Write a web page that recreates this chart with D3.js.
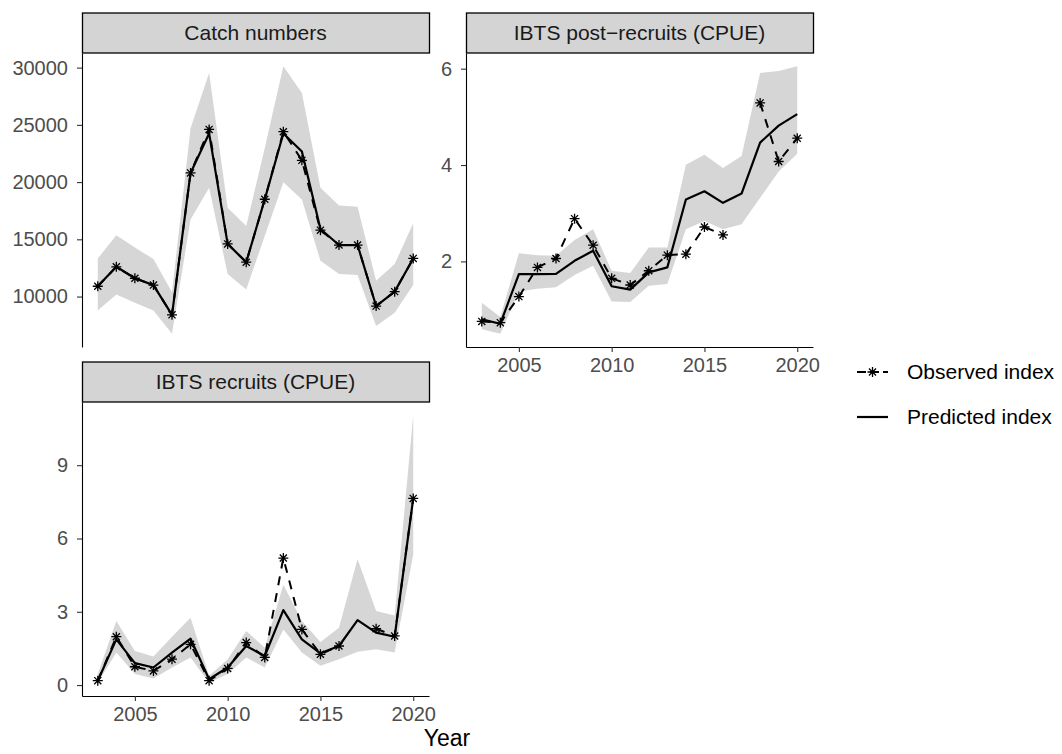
<!DOCTYPE html>
<html>
<head>
<meta charset="utf-8">
<script src="https://cdn.jsdelivr.net/npm/d3@7"></script>
<style>
  body { margin: 0; background: #fff; }
  svg text { font-family: "Liberation Sans", Arial, Helvetica, sans-serif; }
</style>
</head>
<body>
<div id="chart"></div>
<script>
// years on the x axis
var years = [2003, 2004, 2005, 2006, 2007, 2008, 2009, 2010, 2011, 2012, 2013, 2014, 2015, 2016, 2017, 2018, 2019, 2020];
var xTicks = [2005, 2010, 2015, 2020];

// Catch numbers
var catchObs  = [10900, 12600, 11600, 11000, 8400, 20800, 24600, 14600, 13000, 18500, 24400, 21900, 15800, 14500, 14500, 9170, 10430, 13330];
var catchPred = [10900, 12600, 11600, 11000, 8400, 20800, 24250, 14600, 13000, 18500, 24250, 22670, 15900, 14500, 14500, 9170, 10430, 13330];
var catchLow  = [8790, 10170, 9450, 8790, 6760, 16740, 19500, 11970, 10610, 15300, 19980, 18480, 13130, 11970, 11880, 7430, 8590, 11020];
var catchHigh = [13330, 15350, 14290, 13270, 10380, 24700, 29530, 17760, 16160, 22970, 30110, 27790, 19500, 17960, 17850, 11390, 12840, 16400];
var catchTicks = [10000, 15000, 20000, 25000, 30000];

// IBTS post-recruits (CPUE)
var postObs  = [0.755, 0.728, 1.27, 1.876, 2.06, 2.887, 2.336, 1.649, 1.51, 1.806, 2.13, 2.15, 2.714, 2.55, null, 5.29, 4.074, 4.557];
var postPred = [0.796, 0.707, 1.738, 1.738, 1.74, 2.013, 2.22, 1.485, 1.415, 1.773, 1.876, 3.285, 3.456, 3.216, 3.408, 4.466, 4.817, 5.058];
var postLow  = [0.59, 0.501, 1.373, 1.43, 1.464, 1.718, 1.909, 1.167, 1.155, 1.497, 1.532, 2.666, 2.838, 2.666, 2.769, 3.32, 3.868, 4.233];
var postHigh = [1.14, 0.845, 2.17, 2.13, 2.115, 2.445, 2.666, 1.806, 1.76, 2.289, 2.289, 4.006, 4.212, 3.938, 4.19, 5.91, 5.95, 6.048];
var postTicks = [2, 4, 6];

// IBTS recruits (CPUE)
var recObs  = [0.18, 1.98, 0.75, 0.58, 1.06, 1.67, 0.18, 0.68, 1.74, 1.13, 5.2, 2.28, 1.26, 1.6, null, 2.31, 2.01, 7.64];
var recPred = [0.18, 1.87, 0.9, 0.72, 1.33, 1.9, 0.24, 0.72, 1.6, 1.19, 3.07, 1.87, 1.3, 1.6, 2.66, 2.15, 1.98, 7.64];
var recLow  = [0.1, 1.33, 0.45, 0.27, 0.72, 1.13, 0.1, 0.45, 1.13, 0.72, 2.28, 1.33, 0.79, 1.06, 1.36, 1.47, 1.33, 5.34];
var recHigh = [0.45, 2.62, 1.4, 1.17, 1.98, 2.76, 0.38, 1.06, 2.21, 1.53, 4.11, 2.62, 1.76, 2.35, 5.16, 3.03, 2.85, 11.04];
var recTicks = [0, 3, 6, 9];

var legendLabels = ["Observed index", "Predicted index"];

var width = 1062, height = 754;
var panelW = 347, panelH = 294, stripH = 40;
var tickFont = 20, labelFont = 21;

var svg = d3.select("#chart").append("svg")
    .attr("width", width)
    .attr("height", height);
svg.append("rect").attr("width", width).attr("height", height).attr("fill", "#fff");

var panels = [
    {title: "Catch numbers", obs: catchObs, pred: catchPred, low: catchLow, high: catchHigh, ticks: catchTicks, left: 82, top: 53, xAxis: false},
    {title: "IBTS post\u2212recruits (CPUE)", obs: postObs, pred: postPred, low: postLow, high: postHigh, ticks: postTicks, left: 466, top: 53, xAxis: true},
    {title: "IBTS recruits (CPUE)", obs: recObs, pred: recPred, low: recLow, high: recHigh, ticks: recTicks, left: 82, top: 402, xAxis: true}
];

// asterisk like R pch 8
function starPath(r) {
    var d = r * 0.7071;
    return "M" + (-r) + ",0L" + r + ",0M0," + (-r) + "L0," + r +
        "M" + (-d) + "," + (-d) + "L" + d + "," + d +
        "M" + (-d) + "," + d + "L" + d + "," + (-d);
}

function expand(ext) {
    var pad = (ext[1] - ext[0]) * 0.05;
    return [ext[0] - pad, ext[1] + pad];
}

panels.forEach(function (p) {
    var x = d3.scaleLinear()
        .domain(expand(d3.extent(years)))
        .range([p.left, p.left + panelW]);
    var all = p.low.concat(p.high, p.obs.filter(function (v) { return v != null; }), p.pred);
    var y = d3.scaleLinear()
        .domain(expand(d3.extent(all)))
        .range([p.top + panelH, p.top]);

    var g = svg.append("g");

    // ribbon
    var area = d3.area()
        .x(function (d, i) { return x(years[i]); })
        .y0(function (d, i) { return y(p.low[i]); })
        .y1(function (d, i) { return y(p.high[i]); });
    g.append("path")
        .datum(years)
        .attr("d", area)
        .attr("fill", "#d6d6d6");

    // predicted line
    var line = d3.line()
        .defined(function (d) { return d != null; })
        .x(function (d, i) { return x(years[i]); })
        .y(function (d) { return y(d); });
    g.append("path")
        .datum(p.pred)
        .attr("d", line)
        .attr("fill", "none")
        .attr("stroke", "#000")
        .attr("stroke-width", 2.2)
        .attr("stroke-linejoin", "round");

    // observed dashed line
    g.append("path")
        .datum(p.obs)
        .attr("d", line)
        .attr("fill", "none")
        .attr("stroke", "#000")
        .attr("stroke-width", 2)
        .attr("stroke-dasharray", "9,8");

    g.selectAll(".pt")
        .data(p.obs.map(function (v, i) { return {year: years[i], v: v}; })
            .filter(function (d) { return d.v != null; }))
        .enter().append("path")
        .attr("class", "pt")
        .attr("transform", function (d) { return "translate(" + x(d.year) + "," + y(d.v) + ")"; })
        .attr("d", starPath(5))
        .attr("stroke", "#000")
        .attr("stroke-width", 1.3)
        .attr("fill", "none");

    // y axis
    var ya = g.append("g")
        .attr("transform", "translate(" + p.left + ",0)")
        .call(d3.axisLeft(y).tickValues(p.ticks).tickSize(5).tickSizeOuter(0).tickPadding(9).tickFormat(d3.format("d")));
    ya.select(".domain").attr("stroke", "#000").attr("stroke-width", 1.1);
    ya.selectAll(".tick line").attr("stroke", "#333").attr("stroke-width", 1.1);
    ya.selectAll(".tick text").attr("fill", "#4d4d4d").style("font-size", tickFont + "px")
        .style("font-family", "Liberation Sans, Arial, sans-serif");

    if (p.xAxis) {
        var xa = g.append("g")
            .attr("transform", "translate(0," + (p.top + panelH) + ")")
            .call(d3.axisBottom(x).tickValues(xTicks).tickSize(5).tickSizeOuter(0).tickPadding(6).tickFormat(d3.format("d")));
        xa.select(".domain").attr("stroke", "#000").attr("stroke-width", 1.1);
        xa.selectAll(".tick line").attr("stroke", "#333").attr("stroke-width", 1.1);
        xa.selectAll(".tick text").attr("fill", "#4d4d4d").style("font-size", tickFont + "px")
            .style("font-family", "Liberation Sans, Arial, sans-serif");
    }

    // strip
    g.append("rect")
        .attr("x", p.left + 0.5)
        .attr("y", p.top - stripH)
        .attr("width", panelW)
        .attr("height", stripH)
        .attr("fill", "#d4d4d4")
        .attr("stroke", "#000")
        .attr("stroke-width", 1.3);
    g.append("text")
        .attr("x", p.left + panelW / 2)
        .attr("y", p.top - stripH / 2)
        .attr("dy", "0.35em")
        .attr("text-anchor", "middle")
        .attr("fill", "#1a1a1a")
        .style("font-size", labelFont + "px")
        .text(p.title);
});

// x axis title
svg.append("text")
    .attr("x", 447)
    .attr("y", 746)
    .attr("text-anchor", "middle")
    .attr("fill", "#000")
    .style("font-size", "23px")
    .text("Year");

// legend
var legend = svg.append("g").selectAll("g")
    .data(legendLabels)
    .enter().append("g")
    .attr("transform", function (d, i) { return "translate(857," + (372 + i * 45) + ")"; });
legend.append("line")
    .attr("x1", 0).attr("x2", 31).attr("y1", 0).attr("y2", 0)
    .attr("stroke", "#000")
    .attr("stroke-width", 2.2)
    .attr("stroke-dasharray", function (d, i) { return i === 0 ? "9,4" : null; });
legend.filter(function (d, i) { return i === 0; }).append("path")
    .attr("transform", "translate(15.5,0)")
    .attr("d", starPath(5))
    .attr("stroke", "#000")
    .attr("stroke-width", 1.3)
    .attr("fill", "none");
legend.append("text")
    .attr("x", 50)
    .attr("dy", "0.35em")
    .attr("fill", "#000")
    .style("font-size", labelFont + "px")
    .text(function (d) { return d; });
</script>
</body>
</html>
